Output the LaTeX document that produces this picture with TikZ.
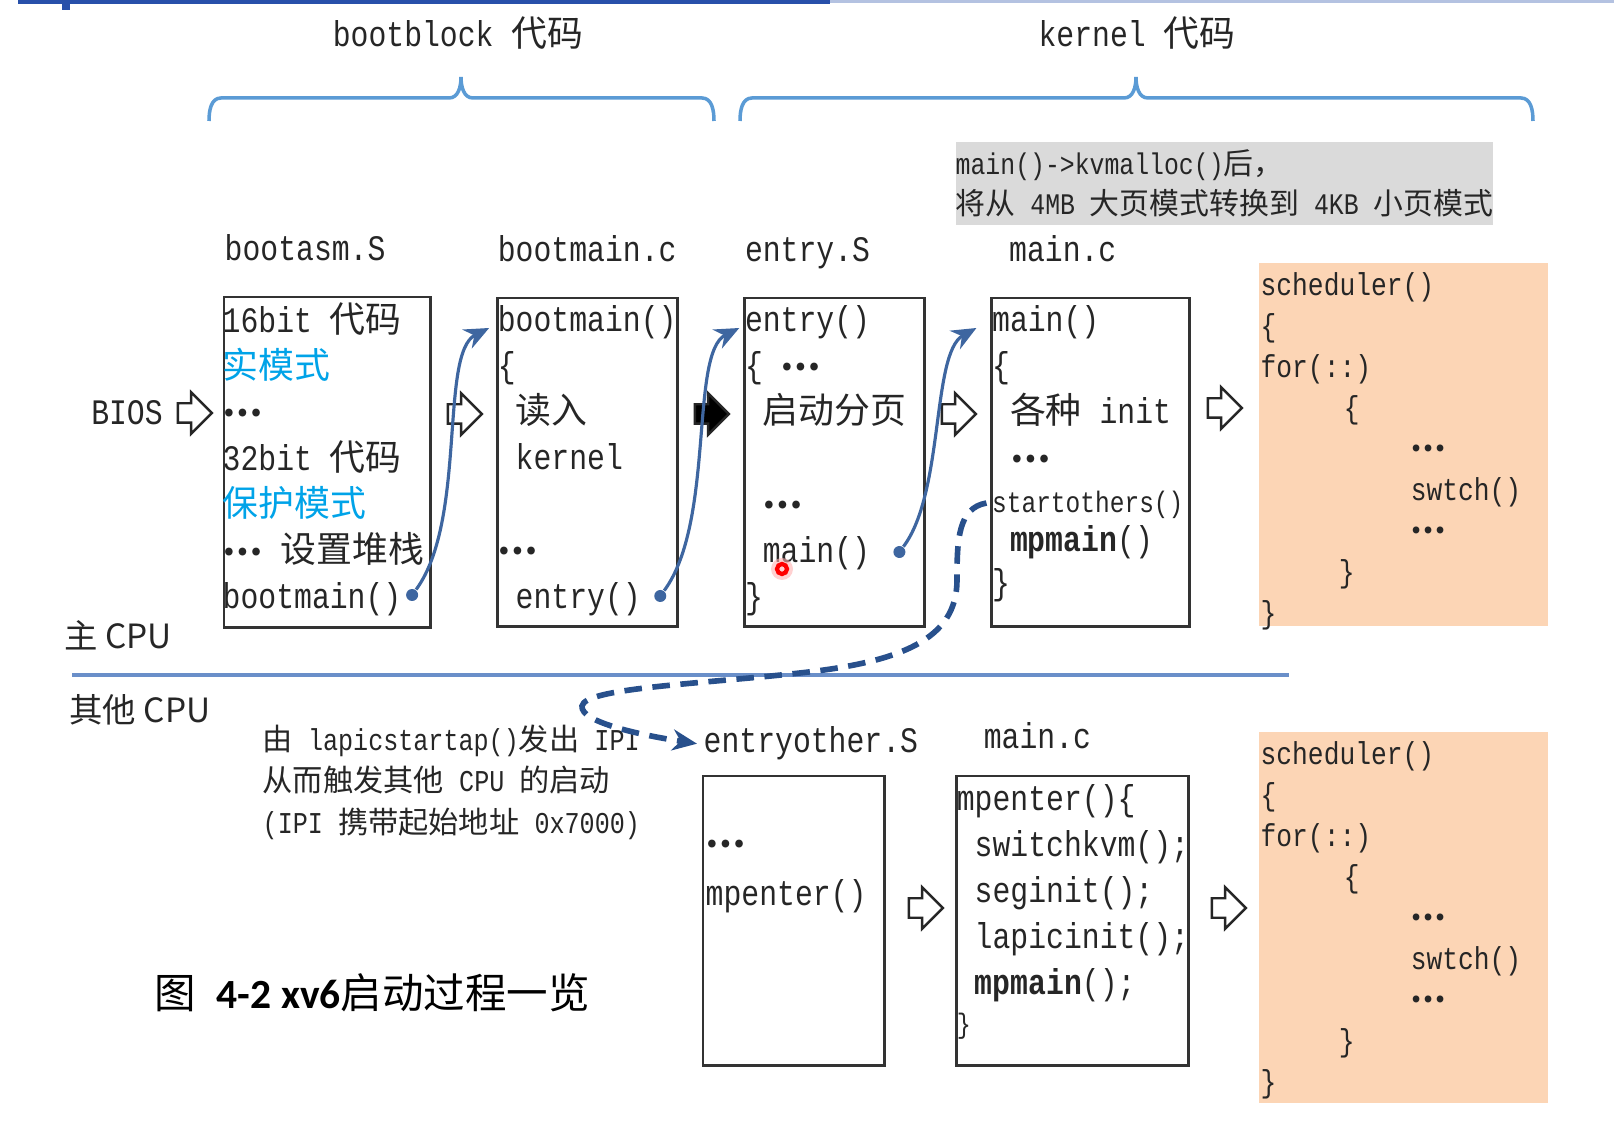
\documentclass[tikz,border=0pt]{standalone}
\usepackage{fontspec}
\setmainfont{Liberation Mono}[FakeStretch=0.83]
\newfontfamily\cjk{Noto Sans CJK SC}
\newfontfamily\capfont{Carlito}
\usetikzlibrary{arrows.meta, positioning, shapes.arrows, calc}
\newcommand{\zh}[1]{{\cjk #1}}
\newcommand{\dotsz}{\raisebox{2.2pt}{\cjk\bfseries …}}
\definecolor{topblue}{RGB}{40,80,170}
\definecolor{braceblue}{RGB}{91,155,213}
\definecolor{lineblue}{RGB}{106,143,201}
\definecolor{flowblue}{RGB}{62,102,160}
\definecolor{dashblue}{RGB}{40,80,140}
\definecolor{modecyan}{RGB}{0,163,232}
\definecolor{peach}{RGB}{252,213,181}
\definecolor{notegray}{RGB}{218,218,218}
\tikzset{
    codebox/.style={
        draw=black!80,
        line width=0.8pt,
        inner sep=0pt,
        outer sep=0pt
    },
    schedbox/.style={
        fill=peach,
        inner sep=0pt,
        minimum width=2.89cm,
        minimum height=3.63cm
    },
    codetext/.style={anchor=north west, inner sep=0pt, align=left, text=black!85, font=\fontsize{10.2}{13.1}\selectfont},
    schedtext/.style={codetext, font=\fontsize{9}{11.66}\selectfont},
    fname/.style={inner sep=0pt, text=black!85, font=\fontsize{10.2}{12}\selectfont},
    note/.style={fill=notegray, inner sep=0pt, minimum width=5.36cm, minimum height=0.83cm, align=left, text=black!85, font=\fontsize{8.5}{11.4}\selectfont},
    ipinote/.style={anchor=north west, inner sep=0pt, align=left, text=black!85, font=\fontsize{8.6}{11.8}\selectfont},
    cpu/.style={inner sep=0pt, text=black!85, font=\cjk\fontsize{9.5}{11}\selectfont},
    hollow/.style={single arrow, draw=black!85, fill=white, line width=0.7pt, inner xsep=0pt, inner ysep=0.085cm, minimum height=0.34cm, single arrow head extend=0.11cm},
    blackarrow/.style={hollow, fill=black},
    flow/.style={flowblue, line width=0.9pt, -{Stealth[length=7pt, width=6pt]}},
    dot/.style={circle, fill=flowblue, inner sep=0pt, minimum size=0.12cm},
    ipi/.style={dashblue, line width=1.6pt, dash pattern=on 5pt off 3pt, -{Stealth[length=7pt, width=6pt]}},
    bracket/.style={braceblue, line width=1pt},
    sepline/.style={lineblue, line width=1.2pt}
}
\begin{document}
\begin{tikzpicture}[x=0.01cm, y=-0.01cm, node distance=0.67cm]
\useasboundingbox (0,0) rectangle (1614,1122);

% slide header line
\fill[topblue] (18,0) rectangle (830,4);
\fill[topblue!35] (830,0) rectangle (1614,3);
\fill[topblue] (62,0) rectangle (70,10);

% titles and brackets
\node[fname] (bbtitle) at (458,33) {bootblock \zh{代码}};
\node[fname] (krtitle) at (1137,33) {kernel \zh{代码}};
\draw[bracket] (209,121) to[out=90,in=180] (221,98) -- (449,98) to[out=0,in=-90] (461,77)
    to[out=-90,in=180] (473,98) -- (702,98) to[out=0,in=90] (714,121);
\draw[bracket] (740,121) to[out=90,in=180] (752,98) -- (1124,98) to[out=0,in=-90] (1136,77)
    to[out=-90,in=180] (1148,98) -- (1521,98) to[out=0,in=90] (1533,121);

\node[note, anchor=north west] (note) at (955,141) {main()->kvmalloc()\zh{后，}\\\zh{将从} 4MB \zh{大页模式转换到} 4KB \zh{小页模式}};

% main cpu row
\node[codebox, minimum width=2.06cm, minimum height=3.30cm, anchor=north west] (asm) at (224,297) {};
\node[codebox, minimum width=1.80cm, minimum height=3.28cm, right=of asm] (bmain) {};
\node[codebox, minimum width=1.80cm, minimum height=3.28cm, right=of bmain] (entry) {};
\node[codebox, minimum width=1.98cm, minimum height=3.28cm, right=of entry] (kmain) {};
\node[schedbox, anchor=north west] (sched) at (1258,262) {};

\node[fname, above=0.36cm of asm.north west, anchor=base west] (lasm) {bootasm.S};
\node[fname, above=0.36cm of bmain.north west, anchor=base west] (lbmain) {bootmain.c};
\node[fname, above=0.36cm of entry.north west, anchor=base west] (lentry) {entry.S};
\node[fname, above=0.36cm of kmain.north west, anchor=base west, xshift=0.17cm] (lkmain) {main.c};

\node[codetext] (tasm) at ($(asm.north west)+(-2,5)$) {16bit \zh{代码}\\
\zh{\color{modecyan}实模式}\\
\dotsz\\
32bit \zh{代码}\\
\zh{\color{modecyan}保护模式}\\
\dotsz\ \zh{设置堆栈}\\
bootmain()};
\node[codetext] (tbmain) at ($(bmain.north west)+(0,7)$) {bootmain()\\
\{\\
\ \zh{读入}\\
\ kernel\\
\mbox{}\\
\dotsz\\
\ entry()};
\node[codetext] (tentry) at ($(entry.north west)+(0,7)$) {entry()\\
\{ \dotsz\\
\ \zh{启动分页}\\
\mbox{}\\
\ \dotsz\\
\ main()\\
\}};
\node[codetext] (tkmain) at ($(kmain.north west)+(0,7)$) {main()\\
\{\\
\ \zh{各种} init\\
\ \dotsz\\[-1pt]
{\fontsize{8.4}{10}\selectfont startothers()}\\[-2pt]
\ \textbf{mpmain}()\\[-1pt]
\}};
\node[schedtext] (tsched) at ($(sched.north west)+(2,10)$) {scheduler()\\
\{\\
for(::)\\
\hspace*{0.83cm}\{\\
\hspace*{1.5cm}\dotsz\\
\hspace*{1.5cm}swtch()\\
\hspace*{1.5cm}\dotsz\\
\hspace*{0.78cm}\}\\
\}};

\node[fname] (bios) at (127,413) {BIOS};
\node[hollow] (ar0) at (190,413) {};
\node[hollow] (ar1) at (460,414) {};
\node[blackarrow] (ar2) at (707,414) {};
\node[hollow] (ar3) at (954,414) {};
\node[hollow] (ar4) at (1220,408) {};

\node[cpu] (maincpu) at (118,635) {主 CPU};
\draw[sepline] (72,675) -- (1289,675);
\node[cpu] (othercpu) at (140,710) {其他 CPU};

% other cpu row
\node[codebox, minimum width=1.81cm, minimum height=2.89cm, anchor=north west] (eo) at (703,776) {};
\node[codebox, minimum width=2.32cm, minimum height=2.89cm, right=0.72cm of eo] (mpc) {};
\node[schedbox, minimum height=3.71cm, anchor=north west] (sched2) at (1258,731) {};

\node[fname, above=0.23cm of eo.north west, anchor=base west] (leo) {entryother.S};
\node[fname, above=0.27cm of mpc.north west, anchor=base west, xshift=0.27cm] (lmpc) {main.c};

\node[codetext] (teo) at ($(eo.north west)+(2,63)$) {\dotsz\\[1.4pt]
mpenter()};
\node[codetext] (tmpc) at ($(mpc.north west)+(0,8)$) {mpenter()\{\\
\ switchkvm();\\
\ seginit();\\
\ lapicinit();\\
\ \textbf{mpmain}();\\[-2pt]
{\fontsize{8}{10}\selectfont\}}};
\node[schedtext] (tsched2) at ($(sched2.north west)+(2,10)$) {scheduler()\\
\{\\
for(::)\\
\hspace*{0.83cm}\{\\
\hspace*{1.5cm}\dotsz\\
\hspace*{1.5cm}swtch()\\
\hspace*{1.5cm}\dotsz\\
\hspace*{0.78cm}\}\\
\}};

\node[hollow] (ar5) at (921,908) {};
\node[hollow] (ar6) at (1224,908) {};

\node[ipinote] (ipi) at (262,724) {\zh{由} lapicstartap()\zh{发出} IPI\\
\zh{从而触发其他} CPU \zh{的启动}\\
(IPI \zh{携带起始地址} 0x7000)};

\node[anchor=west, inner sep=0pt, font=\fontsize{11.8}{14}\selectfont] (caption) at (154,993) {\zh{图} {\capfont\bfseries 4-2 xv6}\zh{启动过程一览}};

% jumps between files
\node[dot] (d1) at ($(asm.north east)+(-18,298)$) {};
\node[dot] (d2) at ($(bmain.north east)+(-17,298)$) {};
\node[dot] (d3) at ($(entry.north east)+(-25,254)$) {};
\coordinate (t1) at ($(bmain.north west)+(-8,30)$);
\coordinate (t2) at ($(entry.north west)+(-5,30)$);
\coordinate (t3) at ($(kmain.north west)+(-15,30)$);
\coordinate (so) at ($(kmain.north west)+(-5,205)$);

\draw[flow] (d1) .. controls +(55,-75) and +(-50,25) .. (t1);
\draw[flow] (d2) .. controls +(55,-75) and +(-50,25) .. (t2);
\draw[flow] (d3) .. controls +(45,-60) and +(-45,25) .. (t3);
\draw[ipi] (so) .. controls (958,508) and (957,540) .. (957,580)
    .. controls (957,640) and (900,662) .. (800,673)
    .. controls (700,684) and (585,688) .. (582,706)
    .. controls (580,722) and (640,735) .. ($(leo.west)+(-6,0)$);

% pointer mark
\fill[red!30, opacity=0.6] (782,569) circle (11);
\node[circle, draw=red, line width=1.2pt, minimum size=0.1cm, inner sep=0pt] (cursor) at (782,569) {};
\end{tikzpicture}
\end{document}
